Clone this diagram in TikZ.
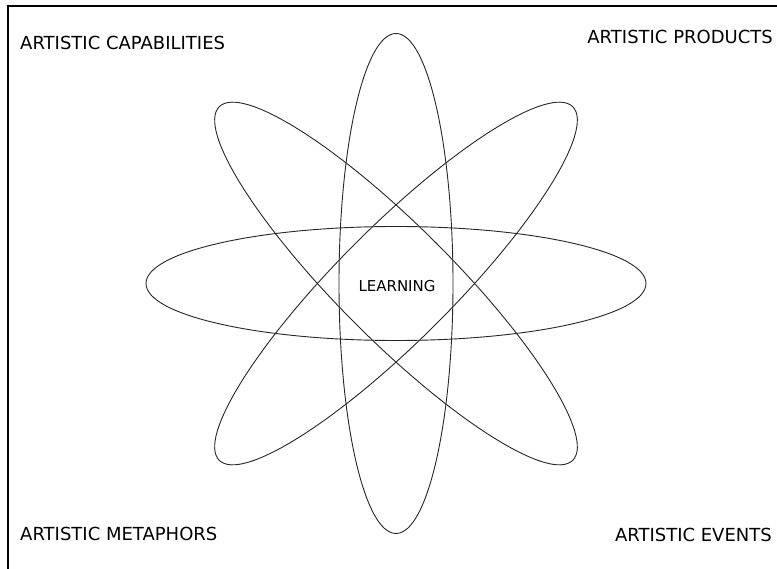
\documentclass[tikz,border=0pt]{standalone}
\usepackage{fontspec}
\setmainfont{DejaVu Sans}
\usetikzlibrary{positioning}

\begin{document}
\begin{tikzpicture}[x=1pt, y=-1pt, lbl/.style={inner sep=0pt, font=\fontsize{18}{21}\selectfont}, orbit/.style={black!85, line width=0.9pt}]
	\useasboundingbox (0,0) rectangle (777,569);
	\draw[line width=1.2pt] (8,569) -- (8,6) -- (777,6);
	\coordinate (c) at (396,283.5);
	\foreach \r in {0,45,90,135} {\draw[orbit, rotate around={\r:(c)}] (c) ellipse [x radius=250pt, y radius=57pt];}
	\node[lbl, anchor=base west] (cap) at (20,50) {ARTISTIC CAPABILITIES};
	\node[lbl, anchor=base east] (prod) at (773,44) {ARTISTIC PRODUCTS};
	\node[lbl, anchor=base west] (meta) at (20,540) {ARTISTIC METAPHORS};
	\node[lbl, anchor=base east] (ev) at (772,541) {ARTISTIC EVENTS};
	\node[inner sep=0pt, font=\fontsize{15}{18}\selectfont, anchor=base] (learn) at (397,292) {LEARNING};
\end{tikzpicture}
\end{document}
